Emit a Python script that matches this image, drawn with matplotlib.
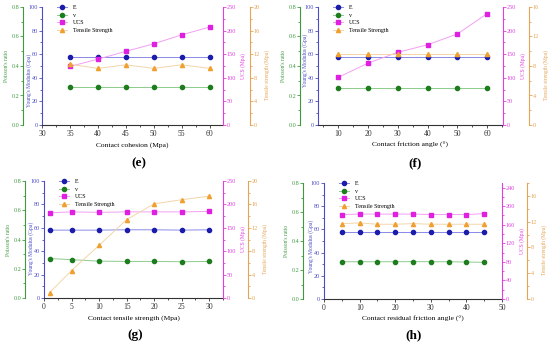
import numpy as np
import matplotlib
matplotlib.use("Agg")
import matplotlib.pyplot as plt
from matplotlib.ticker import MultipleLocator, FormatStrFormatter

plt.rcParams['font.family'] = ['Liberation Serif', 'DejaVu Serif']

# data
e_x = [35, 40, 45, 50, 55, 60]
e_E = [58, 58, 58, 58, 58, 58]
e_v = [0.256, 0.256, 0.256, 0.256, 0.256, 0.256]
e_ucs = [124, 139.5, 156, 172, 191, 207.5]
e_ts = [10.3, 9.6, 10.2, 9.6, 10.2, 9.6]

f_x = [10, 20, 30, 40, 50, 60]
f_E = [57.5, 57.5, 57.5, 57.5, 57.5, 57.5]
f_v = [0.254, 0.254, 0.254, 0.254, 0.254, 0.254]
f_ucs = [101, 131, 154, 170, 193, 236]
f_ts = [9.6, 9.6, 9.6, 9.6, 9.6, 9.6]

g_x = [1, 5, 10, 15, 20, 25, 30]
g_E = [58, 58, 58, 58.3, 58.3, 58, 58.3]
g_v = [0.27, 0.262, 0.252, 0.25, 0.25, 0.248, 0.25]
g_ucs = [182, 184, 183, 184, 184, 184, 185]
g_ts = [0.9, 4.7, 9.0, 13.4, 16.1, 16.8, 17.4]

h_x = [5, 10, 15, 20, 25, 30, 35, 40, 45]
h_E = [58, 58, 58, 58, 58, 58, 58, 58, 58]
h_v = [0.257, 0.257, 0.257, 0.257, 0.258, 0.257, 0.257, 0.255, 0.253]
h_ucs = [182, 183, 183, 183, 183, 182, 182, 182, 184]
h_ts = [11.7, 11.8, 11.6, 11.6, 11.7, 11.6, 11.6, 11.6, 11.6]

labels = ['E', 'v', 'UCS', 'Tensile Strength']

c_v_ax = '#3f9a3f'
c_E_ax = '#4b4bc8'
c_u_ax = '#e040e0'
c_t_ax = '#e5a555'

W, H = 550, 347
fig = plt.figure(figsize=(W / 100, H / 100), dpi=100)


def style_axis(a, side, color, lo, hi, step, fmt=None):
    for s in a.spines.values():
        s.set_visible(False)
    a.spines[side].set_visible(True)
    a.spines[side].set_color(color)
    a.spines[side].set_linewidth(0.8)
    a.set_ylim(lo, hi)
    a.yaxis.set_major_locator(MultipleLocator(step))
    a.yaxis.set_minor_locator(MultipleLocator(step / 2))
    if fmt:
        a.yaxis.set_major_formatter(FormatStrFormatter(fmt))
    a.tick_params(axis='y', which='both', colors=color, labelsize=4.4, width=0.6, pad=0.8)
    a.tick_params(axis='y', which='major', length=2.0)
    a.tick_params(axis='y', which='minor', length=1.1)
    a.yaxis.label.set_color(color)


def panel(box, x, E, v, ucs, ts, xlim, xstep, xlabel, ucs_step, ts_hi, off_v, off_t,
          letter, letter_xy, yE_lab=0.45):
    l, r, t, b = box
    ax = fig.add_axes([l / W, 1 - b / H, (r - l) / W, (b - t) / H])
    ax_v = ax.twinx()
    ax_u = ax.twinx()
    ax_t = ax.twinx()

    # Young's modulus (main left axis)
    style_axis(ax, 'left', c_E_ax, 0, 100, 20)
    ax.spines['bottom'].set_visible(True)
    ax.spines['bottom'].set_color('#333333')
    ax.spines['bottom'].set_linewidth(0.8)
    ax.set_xlim(*xlim)
    ax.xaxis.set_major_locator(MultipleLocator(xstep))
    ax.xaxis.set_minor_locator(MultipleLocator(xstep / 2))
    ax.tick_params(axis='x', which='both', colors='#333333', labelsize=5.5, width=0.6, pad=1.5)
    ax.tick_params(axis='x', which='major', length=2.2)
    ax.tick_params(axis='x', which='minor', length=1.2)
    ax.set_xlabel(xlabel, fontsize=5.4, labelpad=3)

    # Poisson's ratio (offset left)
    ax_v.yaxis.tick_left()
    ax_v.yaxis.set_label_position('left')
    style_axis(ax_v, 'left', c_v_ax, 0, 0.8, 0.2, '%.1f')
    ax_v.spines['left'].set_position(('outward', off_v * 0.72))

    # UCS (right)
    style_axis(ax_u, 'right', c_u_ax, 0, 250, ucs_step)
    # tensile strength (offset right)
    style_axis(ax_t, 'right', c_t_ax, 0, ts_hi, 4)
    ax_t.spines['right'].set_position(('outward', off_t * 0.72))

    h1, = ax.plot(x, E, '-', color='#8a8ae8', lw=0.7, marker='o', ms=3,
                  mfc='#1c1caa', mec='#1c1caa')
    h2, = ax_v.plot(x, v, '-', color='#8ccc8c', lw=0.7, marker='o', ms=3,
                    mfc='#1d7d1d', mec='#1d7d1d')
    h3, = ax_u.plot(x, ucs, '-', color='#f2a0f2', lw=0.7, marker='s', ms=2.8,
                    mfc='#e020e0', mec='#e020e0')
    h4, = ax_t.plot(x, ts, '-', color='#f3d5aa', lw=0.7, marker='^', ms=3,
                    mfc='#f0a030', mec='#f0a030')

    wpx = r - l
    hpx = b - t
    ax_v.set_ylabel("Poisson's ratio", fontsize=4.0)
    ax_v.yaxis.set_label_coords((-off_v - 14) / wpx, 0.5)
    ax.set_ylabel("Young's Modulus (Gpa)", fontsize=4.0)
    ax.yaxis.set_label_coords(-10.5 / wpx, yE_lab)
    ax_u.set_ylabel("UCS (Mpa)", fontsize=4.0)
    ax_u.yaxis.set_label_coords(1 + 17.5 / wpx, 0.5)
    ax_t.set_ylabel("Tensile strength (Mpa)", fontsize=4.0)
    ax_t.yaxis.set_label_coords(1 + (off_t + 14) / wpx, 0.42)

    ax_t.legend([h1, h2, h3, h4], labels, loc='upper left', frameon=False,
                bbox_to_anchor=(15 / wpx, 1 + 2 / hpx), fontsize=4.3,
                borderpad=0, borderaxespad=0, handlelength=1.6,
                handletextpad=1.0, labelspacing=0.4)

    fig.text(letter_xy[0] / W, 1 - letter_xy[1] / H, letter, fontsize=9.5,
             fontweight='bold', ha='center', va='center')


panel((42, 223, 7, 125), e_x, e_E, e_v, e_ucs, e_ts, (30, 62.4), 5,
      'Contact cohesion (Mpa)', 50, 20, 19, 27, '(e)', (139, 163), 0.38)
panel((318, 503, 7, 125), f_x, f_E, f_v, f_ucs, f_ts, (3.2, 65.3), 10,
      'Contact friction angle (°)', 50, 16, 18, 26, '(f)', (415, 163), 0.55)
panel((44, 223, 181, 298), g_x, g_E, g_v, g_ucs, g_ts, (0, 32.5), 5,
      'Contact tensile strength (Mpa)', 50, 20, 19, 25, '(g)', (135, 335), 0.42)
panel((324, 502, 183, 299), h_x, h_E, h_v, h_ucs, h_ts, (0, 50), 10,
      'Contact residual friction angle (°)', 40, 18, 21, 25, '(h)', (414, 335), 0.45)

fig.savefig('out.png', dpi=100)
